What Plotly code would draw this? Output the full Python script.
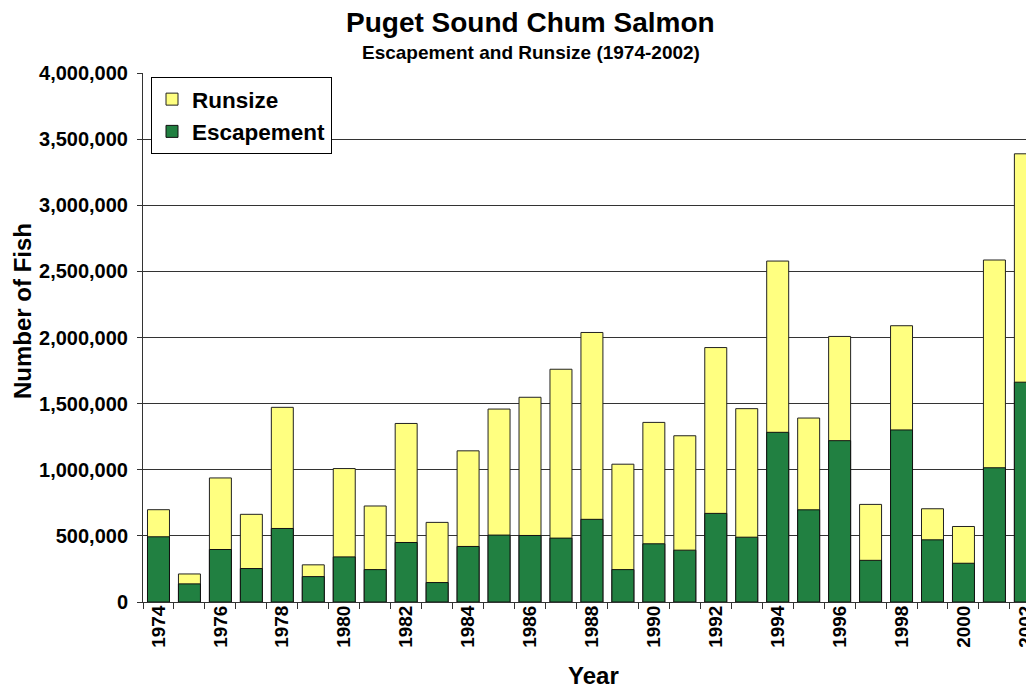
import plotly.graph_objects as go

years = list(range(1974, 2003))
runsize = [698000, 212000, 938000, 663000, 1472000, 281000, 1009000, 726000, 1350000, 602000,
           1143000, 1459000, 1548000, 1760000, 2038000, 1042000, 1358000, 1257000, 1924000, 1462000,
           2578000, 1391000, 2008000, 738000, 2089000, 705000, 571000, 2586000, 3389000]
escapement = [493000, 137000, 397000, 253000, 556000, 192000, 341000, 245000, 450000, 147000,
              420000, 506000, 503000, 483000, 625000, 245000, 440000, 392000, 670000, 490000,
              1283000, 697000, 1220000, 315000, 1301000, 470000, 293000, 1015000, 1662000]
label_years = years[::2]

FONT = "Liberation Sans, Arial, sans-serif"
bar_w = 0.71

# page offset of the figure (default body margin) and visible page width
OFF = 8
FIG_W, FIG_H = 1026 - OFF, 689 - OFF
PL, PT, PB, PR = 143, 73, 602, 1026   # plot area in page pixels
PW, PH = PR - PL, PB - PT

def px(xp):
    return (xp - PL) / PW

def py(yp):
    return (PB - yp) / PH

fig = go.Figure()
fig.add_trace(go.Bar(x=years, y=runsize, name="Runsize", width=bar_w,
                     marker=dict(color="#FFFF80", line=dict(color="#222222", width=1))))
fig.add_trace(go.Bar(x=years, y=escapement, name="Escapement", width=bar_w,
                     marker=dict(color="#218041", line=dict(color="#111111", width=1))))

fig.update_layout(
    width=FIG_W, height=FIG_H,
    margin=dict(l=PL - OFF, r=0, t=PT - OFF, b=OFF + FIG_H - PB, autoexpand=False),
    barmode="overlay",
    plot_bgcolor="white", paper_bgcolor="white",
    font=dict(family=FONT, color="black"),
    showlegend=True,
    legend=dict(x=px(151), y=py(77), xanchor="left", yanchor="top",
                bgcolor="white", bordercolor="black", borderwidth=1,
                font=dict(family=FONT, size=22.5, weight="bold"),
                traceorder="normal", tracegroupgap=0),
)

fig.update_xaxes(
    range=[years[0] - 0.5, years[-1] + 0.02],
    tickmode="array", tickvals=label_years, ticktext=[str(y) for y in label_years],
    tickangle=-90, ticks="", ticklabelstandoff=-5, ticklabeloverflow="allow",
    automargin=False,
    tickfont=dict(family=FONT, size=19, weight="bold"),
    showline=True, linecolor="#333333", linewidth=1,
    showgrid=False, zeroline=False,
    minor=dict(tickmode="array", tickvals=[y - 0.5 for y in years],
               ticks="outside", ticklen=6, tickcolor="#333333", tickwidth=1, showgrid=False),
)
fig.update_yaxes(
    range=[0, 4000000], dtick=500000, tickformat=",",
    automargin=False,
    tickfont=dict(family=FONT, size=20, weight="bold"),
    ticks="outside", ticklen=5, tickcolor="#333333", ticklabelstandoff=5,
    showline=True, linecolor="#333333", linewidth=1,
    showgrid=True, gridcolor="#333333", gridwidth=1, zeroline=False,
)

annos = [
    dict(text="Puget Sound Chum Salmon", x=px(530), y=py(23), font=dict(size=28, weight="bold")),
    dict(text="Escapement and Runsize (1974-2002)", x=px(531), y=py(52),
         font=dict(size=19, weight="bold")),
    dict(text="Number of Fish", x=px(22), y=py(311), textangle=-90,
         font=dict(size=24, weight="bold")),
    dict(text="Year", x=px(593), y=py(675), font=dict(size=24, weight="bold")),
]
for a in annos:
    a["font"]["family"] = FONT
    a["font"]["color"] = "black"
    fig.add_annotation(xref="paper", yref="paper", showarrow=False,
                       xanchor="center", yanchor="middle", **a)

fig.write_html("out.html")
